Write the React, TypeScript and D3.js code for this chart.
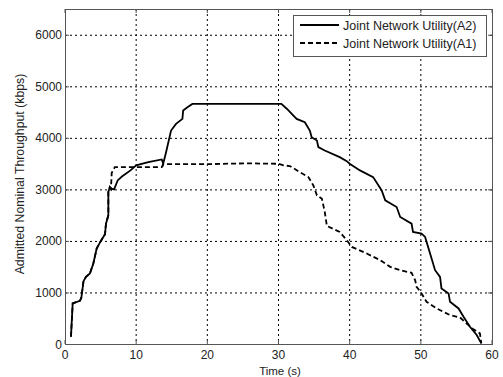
import { useRef, useEffect } from "react";
import { select, scaleLinear, line } from "d3";

// Time (s) and throughput (kbps)
const a2Time = [0.84, 1.08, 2.1, 2.3, 2.6, 2.95, 3.5, 3.98, 4.45, 5.0, 5.62, 5.76, 6.09, 6.09, 6.3, 6.5, 6.9, 7.4, 8.0, 9.2, 10.0, 11.7, 13.6, 13.8, 14.2, 14.9, 15.6, 16.5, 16.6, 17.2, 17.9, 30.4, 31.2, 32.1, 32.55, 33.7, 34.4, 34.66, 35.4, 35.6, 36.5, 38.6, 39.6, 40.0, 41.45, 43.3, 44.5, 45.0, 46.6, 47.1, 48.7, 48.9, 50.1, 50.6, 51.3, 52.0, 52.7, 52.9, 53.9, 54.1, 55.3, 56.0, 56.9, 57.85, 58.5];
const a2Value = [141, 787, 838, 900, 1219, 1303, 1368, 1561, 1852, 1990, 2129, 2335, 2497, 2948, 3045, 3013, 3000, 3174, 3250, 3368, 3465, 3529, 3581, 3497, 3722, 4142, 4271, 4368, 4529, 4593, 4658, 4658, 4560, 4432, 4368, 4303, 4142, 4012, 3948, 3819, 3755, 3626, 3548, 3497, 3368, 3238, 2980, 2787, 2657, 2464, 2335, 2174, 2142, 2077, 1755, 1432, 1303, 1078, 981, 819, 690, 529, 335, 174, 13];

const a1Time = [0.84, 1.08, 2.1, 2.3, 2.6, 2.95, 3.5, 3.98, 4.45, 5.0, 5.62, 5.76, 6.09, 6.09, 6.3, 6.46, 6.56, 7.0, 13.6, 13.8, 20.0, 25.5, 30.0, 30.7, 31.6, 33.0, 34.2, 34.9, 35.4, 36.1, 36.5, 36.8, 38.6, 39.6, 40.3, 42.4, 44.3, 45.7, 47.1, 48.7, 49.2, 49.4, 50.1, 50.8, 52.2, 54.1, 55.5, 56.4, 57.4, 58.3, 58.5];
const a1Value = [141, 787, 838, 900, 1219, 1303, 1368, 1561, 1852, 1990, 2129, 2335, 2497, 2948, 3045, 3013, 3316, 3432, 3432, 3490, 3490, 3505, 3497, 3465, 3452, 3335, 3238, 3077, 2884, 2819, 2561, 2290, 2174, 2013, 1884, 1755, 1626, 1497, 1432, 1381, 1239, 1110, 981, 819, 690, 561, 516, 400, 284, 206, 13];

const xTicks = [0, 10, 20, 30, 40, 50, 60];
const yTicks = [0, 1000, 2000, 3000, 4000, 5000, 6000];
const legendLabels = ["Joint Network Utility(A2)", "Joint Network Utility(A1)"];

export default function App() {
  const svgRef = useRef<SVGSVGElement>(null);

  useEffect(() => {
    const svg = select(svgRef.current);
    svg.selectAll("*").remove();

    const left = 65, right = 492, top = 9, bottom = 344;
    const xScale = scaleLinear().domain([0, 60]).range([left, right]);
    const yScale = scaleLinear().domain([0, 6500]).range([bottom, top]);
    const font = "'Liberation Sans', Arial, sans-serif";

    svg.append("rect").attr("width", 503).attr("height", 377).attr("fill", "#fff");

    // grid
    svg.selectAll(".gx")
      .data(xTicks.slice(1, -1))
      .join("line")
      .attr("x1", (d) => xScale(d)).attr("x2", (d) => xScale(d))
      .attr("y1", top).attr("y2", bottom)
      .attr("stroke", "#000").attr("stroke-width", 1)
      .attr("stroke-dasharray", "2,3");
    svg.selectAll(".gy")
      .data(yTicks.slice(1))
      .join("line")
      .attr("x1", left).attr("x2", right)
      .attr("y1", (d) => yScale(d) + 0.5).attr("y2", (d) => yScale(d) + 0.5)
      .attr("stroke", "#000").attr("stroke-width", 1)
      .attr("stroke-dasharray", "2,3");

    // ticks (inward)
    xTicks.forEach((d) => {
      const x = xScale(d);
      svg.append("line").attr("x1", x).attr("x2", x).attr("y1", bottom).attr("y2", bottom - 4).attr("stroke", "#555");
      svg.append("line").attr("x1", x).attr("x2", x).attr("y1", top).attr("y2", top + 4).attr("stroke", "#555");
      svg.append("text")
        .attr("x", x).attr("y", bottom + 15)
        .attr("text-anchor", "middle")
        .attr("font-family", font).attr("font-size", 12).attr("fill", "#222")
        .text(d);
    });
    yTicks.forEach((d) => {
      const y = yScale(d) + 0.5;
      svg.append("line").attr("x1", left).attr("x2", left + 4).attr("y1", y).attr("y2", y).attr("stroke", "#555");
      svg.append("line").attr("x1", right).attr("x2", right - 4).attr("y1", y).attr("y2", y).attr("stroke", "#555");
      svg.append("text")
        .attr("x", left - 3).attr("y", y + 4)
        .attr("text-anchor", "end")
        .attr("font-family", font).attr("font-size", 12).attr("fill", "#222")
        .text(d);
    });

    // lines
    const makeLine = (xs: number[]) =>
      line<number>()
        .x((d, i) => xScale(xs[i]))
        .y((d) => yScale(d));

    svg.append("path")
      .attr("d", makeLine(a1Time)(a1Value))
      .attr("fill", "none").attr("stroke", "#000")
      .attr("stroke-width", 1.8).attr("stroke-dasharray", "5,3");
    svg.append("path")
      .attr("d", makeLine(a2Time)(a2Value))
      .attr("fill", "none").attr("stroke", "#000")
      .attr("stroke-width", 1.8);

    // box
    svg.append("rect")
      .attr("x", left + 0.5).attr("y", top + 0.5)
      .attr("width", right - left).attr("height", bottom - top)
      .attr("fill", "none").attr("stroke", "#555").attr("stroke-width", 1);

    // legend
    const lg = svg.append("g");
    lg.append("rect")
      .attr("x", 293.5).attr("y", 15.5).attr("width", 193).attr("height", 41)
      .attr("fill", "#fff").attr("stroke", "#555");
    legendLabels.forEach((label, i) => {
      const y = 25 + i * 18;
      lg.append("line")
        .attr("x1", 300).attr("x2", 339).attr("y1", y).attr("y2", y)
        .attr("stroke", "#000").attr("stroke-width", 1.8)
        .attr("stroke-dasharray", i === 1 ? "5,3" : null);
      lg.append("text")
        .attr("x", 343).attr("y", y + 4.5)
        .attr("font-family", font).attr("font-size", 12.5).attr("fill", "#222")
        .text(label);
    });

    // axis titles
    svg.append("text")
      .attr("x", 280).attr("y", 375)
      .attr("text-anchor", "middle")
      .attr("font-family", font).attr("font-size", 11.5).attr("fill", "#222")
      .text("Time (s)");
    svg.append("text")
      .attr("transform", `translate(24, ${174}) rotate(-90)`)
      .attr("text-anchor", "middle")
      .attr("font-family", font).attr("font-size", 12.3).attr("fill", "#222")
      .text("Admitted Nominal Throughput (kbps)");
  }, []);

  return (
    <svg
      ref={svgRef}
      width={503}
      height={377}
      style={{ position: "fixed", left: 0, top: 0 }}
    />
  );
}
